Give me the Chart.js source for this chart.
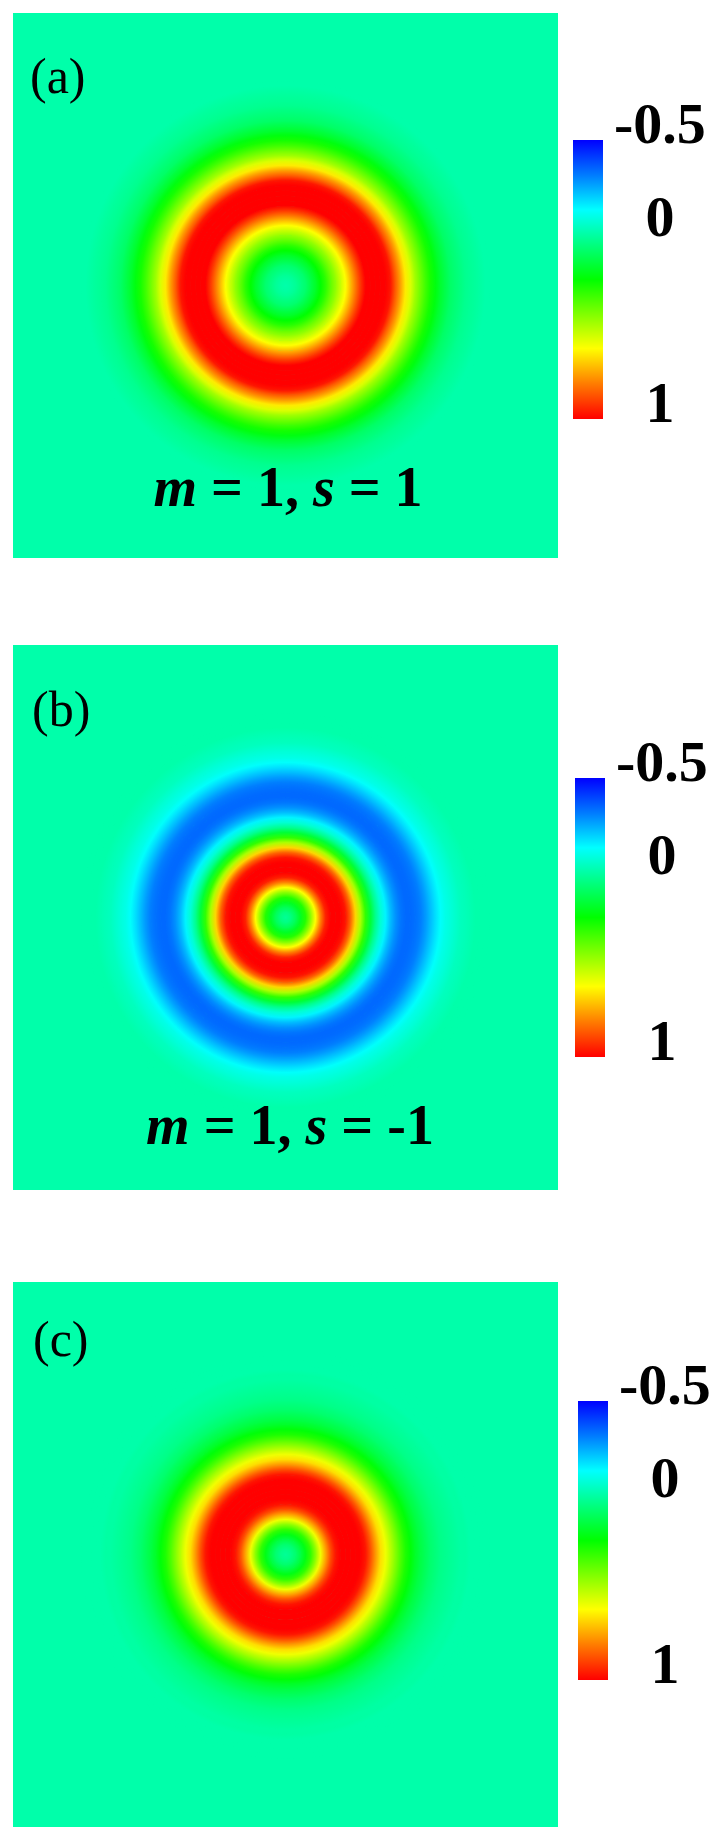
<!DOCTYPE html>
<html>
<head>
<meta charset="utf-8">
<title>Ring profiles</title>
<script src="https://cdn.jsdelivr.net/npm/chart.js@4.4.1/dist/chart.umd.min.js"></script>
<style>
  body { margin: 0; background: #fff; }
  #page { position: relative; width: 720px; height: 1840px; }
  .box { position: absolute; }
</style>
</head>
<body>
<div id="page">
  <div class="box" style="left:13px;top:13px"><canvas id="panelA" width="545" height="545"></canvas></div>
  <div class="box" style="left:573px;top:100px"><canvas id="barA" width="147" height="359"></canvas></div>
  <div class="box" style="left:13px;top:645px"><canvas id="panelB" width="545" height="545"></canvas></div>
  <div class="box" style="left:575px;top:738px"><canvas id="barB" width="145" height="359"></canvas></div>
  <div class="box" style="left:13px;top:1282px"><canvas id="panelC" width="545" height="545"></canvas></div>
  <div class="box" style="left:578px;top:1361px"><canvas id="barC" width="142" height="359"></canvas></div>
</div>
<script>
// radius from the beam centre (px) where each value was read
const radii = [0, 5, 10, 15, 20, 25, 30, 35, 40, 45, 50, 55, 60, 65, 70, 75, 80, 85, 90, 95,
               100, 105, 110, 115, 120, 125, 130, 135, 140, 145, 150, 155, 160, 165, 170, 175, 180, 185, 190, 195, 200];

// (a) m = 1, s = 1
const profileA = [0, 0.01, 0.03, 0.06, 0.09, 0.14, 0.19, 0.25, 0.31, 0.39, 0.46, 0.54, 0.62, 0.72, 0.82, 0.92, 1, 1, 1, 1,
                  1, 0.97, 0.86, 0.76, 0.65, 0.57, 0.48, 0.41, 0.34, 0.28, 0.23, 0.18, 0.14, 0.10, 0.08, 0.06, 0.04, 0.03, 0.02, 0.01, 0];
// (b) m = 1, s = -1
const profileB = [0.03, 0.06, 0.12, 0.2, 0.3, 0.45, 0.62, 0.8, 0.95, 1, 1, 1, 0.97, 0.85, 0.68, 0.5, 0.32, 0.17, 0.04, -0.06,
                  -0.14, -0.22, -0.28, -0.32, -0.34, -0.34, -0.33, -0.31, -0.27, -0.22, -0.17, -0.12, -0.09, -0.07, -0.05, -0.03, -0.02, -0.01, 0, 0, 0];
// (c)
const profileC = [0.03, 0.05, 0.09, 0.15, 0.22, 0.32, 0.45, 0.6, 0.75, 0.88, 0.97, 1, 1, 1, 1, 1, 0.97, 0.88, 0.77, 0.67,
                  0.6, 0.52, 0.44, 0.36, 0.29, 0.24, 0.19, 0.15, 0.12, 0.09, 0.07, 0.05, 0.04, 0.03, 0.02, 0.01, 0.01, 0, 0, 0, 0];

const cbarRange = [-0.5, 1];
const cbarTicks = [-0.5, 0, 1];

// colour map of the bar, top (-0.5) to bottom (1)
const mapStops = [[0, [0, 0, 255]], [0.13, [0, 128, 255]], [0.25, [0, 255, 255]], [0.5, [0, 255, 0]],
                  [0.747, [255, 255, 0]], [0.87, [255, 128, 0]], [1, [255, 0, 0]]];

const serif = '"Liberation Serif", "Times New Roman", serif';
const step = radii[1] - radii[0];
const rMax = radii[radii.length - 1] + step;

function colorFor(v) {
  let t = (v - cbarRange[0]) / (cbarRange[1] - cbarRange[0]);
  t = Math.max(0, Math.min(1, t));
  for (let i = 1; i < mapStops.length; i++) {
    if (t <= mapStops[i][0]) {
      const [t0, c0] = mapStops[i - 1], [t1, c1] = mapStops[i];
      const f = (t - t0) / (t1 - t0);
      const c = c0.map((x, j) => Math.round(x + (c1[j] - x) * f));
      return 'rgb(' + c.join(',') + ')';
    }
  }
  return 'rgb(255,0,0)';
}

function ringFill(chart, profile) {
  const a = chart.chartArea;
  if (!a) return colorFor(0);
  if (chart.$ringFill) return chart.$ringFill;
  const cx = (a.left + a.right) / 2, cy = (a.top + a.bottom) / 2;
  const R = Math.min(a.width, a.height) / 2;
  const g = chart.ctx.createRadialGradient(cx, cy, 0, cx, cy, R);
  profile.forEach((v, k) => g.addColorStop(radii[k] / rMax, colorFor(v)));
  g.addColorStop(1, colorFor(profile[profile.length - 1]));
  chart.$ringFill = g;
  return g;
}

const panelText = {
  id: 'panelText',
  afterDraw(chart, args, opts) {
    const ctx = chart.ctx;
    ctx.save();
    ctx.fillStyle = '#000';
    ctx.textBaseline = 'alphabetic';
    ctx.textAlign = 'left';
    ctx.font = '50px ' + serif;
    ctx.fillText(opts.tag, opts.tagX, opts.tagY);
    if (opts.note) {
      const fontOf = p => (p[1] ? 'italic bold ' : 'bold ') + '56px ' + serif;
      let w = 0;
      opts.note.forEach(p => { ctx.font = fontOf(p); w += ctx.measureText(p[0]).width; });
      let x = opts.noteX - w / 2;
      opts.note.forEach(p => {
        ctx.font = fontOf(p);
        ctx.fillText(p[0], x, opts.noteY);
        x += ctx.measureText(p[0]).width;
      });
    }
    ctx.restore();
  }
};

function makePanel(id, profile, text) {
  const pad = (545 - 2 * rMax) / 2;
  document.getElementById(id).style.background = colorFor(0);
  // one ring per sample, outermost first
  const datasets = profile.map((v, k) => ({
    label: 'r = ' + radii[k],
    data: [1],
    backgroundColor: c => ringFill(c.chart, profile),
    borderColor: c => ringFill(c.chart, profile),
    borderWidth: 1
  })).reverse();
  new Chart(document.getElementById(id), {
    type: 'doughnut',
    data: { labels: ['v'], datasets: datasets },
    options: {
      responsive: false,
      animation: false,
      events: [],
      cutout: 0,
      layout: { padding: pad },
      plugins: {
        legend: { display: false },
        tooltip: { enabled: false },
        panelText: text
      }
    },
    plugins: [panelText]
  });
}

function barFill(chart) {
  const a = chart.chartArea;
  if (!a || !isFinite(a.top) || !isFinite(a.bottom)) return colorFor(0);
  // reversed axis: -0.5 sits at the top of the area, 1 at the bottom
  const g = chart.ctx.createLinearGradient(0, a.top, 0, a.bottom);
  mapStops.forEach(s => g.addColorStop(s[0], 'rgb(' + s[1].join(',') + ')'));
  return g;
}

function makeBar(id, axisWidth) {
  new Chart(document.getElementById(id), {
    type: 'bar',
    data: {
      labels: [''],
      datasets: [{
        data: [cbarRange],
        backgroundColor: c => barFill(c.chart),
        borderWidth: 0,
        barPercentage: 1,
        categoryPercentage: 1
      }]
    },
    options: {
      responsive: false,
      animation: false,
      events: [],
      layout: { padding: { top: 40, bottom: 40, left: 0, right: 0 } },
      plugins: { legend: { display: false }, tooltip: { enabled: false } },
      scales: {
        x: { display: false },
        y: {
          position: 'right',
          reverse: true,
          min: cbarRange[0],
          max: cbarRange[1],
          grid: { display: false },
          border: { display: false },
          afterBuildTicks: s => { s.ticks = cbarTicks.map(v => ({ value: v })); },
          afterFit: s => { s.width = axisWidth; },
          ticks: {
            color: '#000',
            font: { family: serif, size: 58, weight: 'bold' },
            padding: 3,
            crossAlign: 'center',
            labelOffset: -12,
            callback: v => String(v)
          }
        }
      }
    }
  });
}

makePanel('panelA', profileA, {
  tag: '(a)', tagX: 17, tagY: 80,
  note: [['m', true], [' = 1, ', false], ['s', true], [' = 1', false]], noteX: 275, noteY: 493
});
makePanel('panelB', profileB, {
  tag: '(b)', tagX: 19, tagY: 81,
  note: [['m', true], [' = 1, ', false], ['s', true], [' = -1', false]], noteX: 277, noteY: 499
});
makePanel('panelC', profileC, { tag: '(c)', tagX: 20, tagY: 74 });
makeBar('barA', 117);
makeBar('barB', 115);
makeBar('barC', 112);
</script>
</body>
</html>
